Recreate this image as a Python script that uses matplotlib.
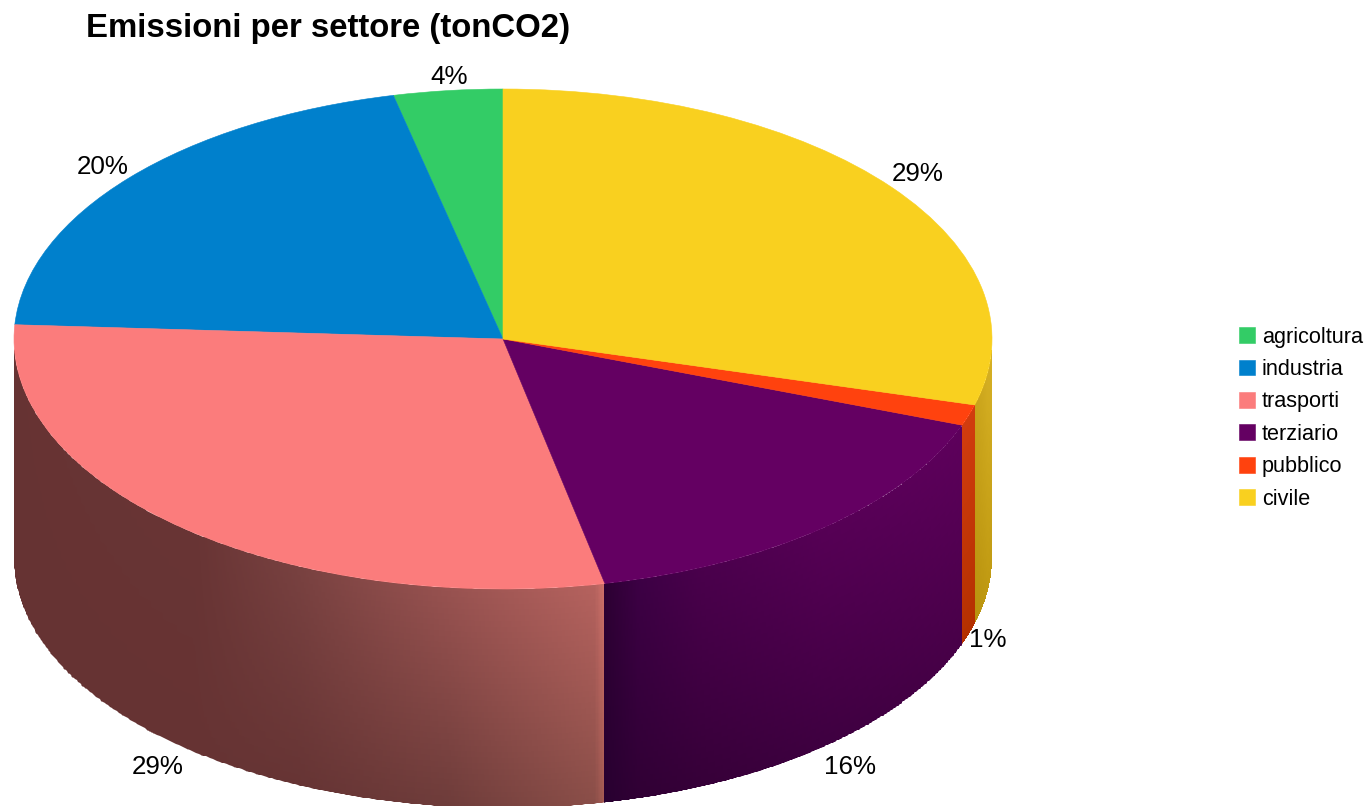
import numpy as np
import matplotlib
matplotlib.use("Agg")
import matplotlib.pyplot as plt
from matplotlib.colors import to_rgb
from matplotlib.patches import Polygon

plt.rcParams['font.family'] = ['Liberation Sans', 'DejaVu Sans']

categories = ['agricoltura', 'industria', 'trasporti', 'terziario', 'pubblico', 'civile']
values = [3.6, 20.49, 29.25, 16.06, 1.35, 29.25]
colors = ['#33CC66', '#0080CC', '#FB7C7C', '#640062', '#FF420E', '#F9D01F']
label_px = [(449, 77.5), (103, 166.5), (158, 767), (850, 766.5), (988, 640), (918, 174)]

# wall shading: fraction along wall (clockwise), colour at top, colour at bottom
wall_shades = {
    'civile': [(0, '#d8b226', '#c29c14'), (0.5, '#d4ae22', '#c09a12'), (1, '#c8a21a', '#b8920e')],
    'pubblico': [(0, '#d23c0e', '#b43000'), (1, '#d23c0e', '#b43000')],
    'terziario': [(0, '#5e005c', '#480048'), (0.5, '#560055', '#3e0040'), (0.79, '#4a004c', '#360038'),
                  (0.93, '#3c0044', '#300034'), (1, '#2c0032', '#280030')],
    'trasporti': [(0, '#cf716a', '#a85c54'), (0.012, '#b5625e', '#8a4e48'), (0.18, '#985250', '#6e3c3a'),
                  (0.36, '#784140', '#663434'), (0.5, '#683434', '#663333'), (1, '#663333', '#663333')],
}

W, H = 1369, 806
cx, cy, rx, ry, depth_px = 503, 339, 489, 250, 219

fig = plt.figure(figsize=(W / 100, H / 100), dpi=100, facecolor='white')
ax = fig.add_axes([0, 0, 1, 1])

wedges, _ = ax.pie(values, colors=colors, startangle=90, counterclock=True, radius=1,
                   wedgeprops=dict(linewidth=0.4, zorder=5))
for w, c in zip(wedges, colors):
    w.set_edgecolor(c)
ax.set_aspect('auto')
ax.set_xlim((0 - cx) / rx, (W - cx) / rx)
ax.set_ylim((cy - H) / ry, cy / ry)
ax.axis('off')

depth = depth_px / ry
fractions = np.array(values) / sum(values)
ends = 360 * (1 - np.cumsum(fractions))          # clockwise-from-top angle of slice start
starts = ends + 360 * fractions


def hexes(seq):
    return np.array([to_rgb(s) for s in seq])


for name, t_end, t_start in zip(categories, ends, starts):
    if name not in wall_shades:
        continue
    t0, t1 = max(t_end, 90.0), min(t_start, 270.0)
    stops = wall_shades[name]
    us = np.array([s[0] for s in stops])
    tops = hexes([s[1] for s in stops])
    bots = hexes([s[2] for s in stops])
    nt = max(int((t1 - t0) * 6), 8)
    nv = 40
    t = np.linspace(t0 - 0.3, t1 + 0.3, nt + 1)
    v = np.linspace(-0.01, 1.03, nv + 1)
    T, V = np.meshgrid(np.radians(t), v)
    X = np.sin(T)
    Y = np.cos(T) - depth * V
    umid = (t[:-1] + t[1:]) / 2
    umid = (umid - t0) / (t1 - t0)
    vmid = np.clip((v[:-1] + v[1:]) / 2, 0, 1)
    C = np.zeros((nv, nt, 3))
    for k in range(3):
        ct = np.interp(umid, us, tops[:, k])
        cb = np.interp(umid, us, bots[:, k])
        C[:, :, k] = np.outer(1 - vmid, ct) + np.outer(vmid, cb)
    mesh = ax.pcolormesh(X, Y, C, shading='flat', antialiased=False, linewidth=0,
                         edgecolors='none', zorder=1)
    # antialiased wall outline used as clip
    tc = np.radians(np.linspace(t0 - 0.05, t1 + 0.05, 300))
    outline = np.vstack([np.column_stack([np.sin(tc), np.cos(tc)]),
                         np.column_stack([np.sin(tc[::-1]), np.cos(tc[::-1]) - depth])])
    clip = Polygon(outline, closed=True, transform=ax.transData)
    mesh.set_clip_path(clip)

for val, (px, py) in zip(values, label_px):
    fig.text(px / W, 1 - py / H, f"{round(val)}%", ha='center', va='center',
             fontsize=18.7, color='black')

fig.text(86 / W, 1 - 29 / H, 'Emissioni per settore (tonCO2)', ha='left', va='center',
         fontsize=23.7, fontweight='bold', color='black')

ax.legend(wedges, categories, loc='upper left', bbox_to_anchor=(1232 / W, 1 - 320 / H),
          bbox_transform=fig.transFigure, frameon=False, fontsize=15.6,
          handlelength=0.745, handleheight=0.745, handletextpad=0.33, labelspacing=0.53,
          borderpad=0.3, borderaxespad=0)

fig.savefig('out.png', dpi=100, facecolor='white')
